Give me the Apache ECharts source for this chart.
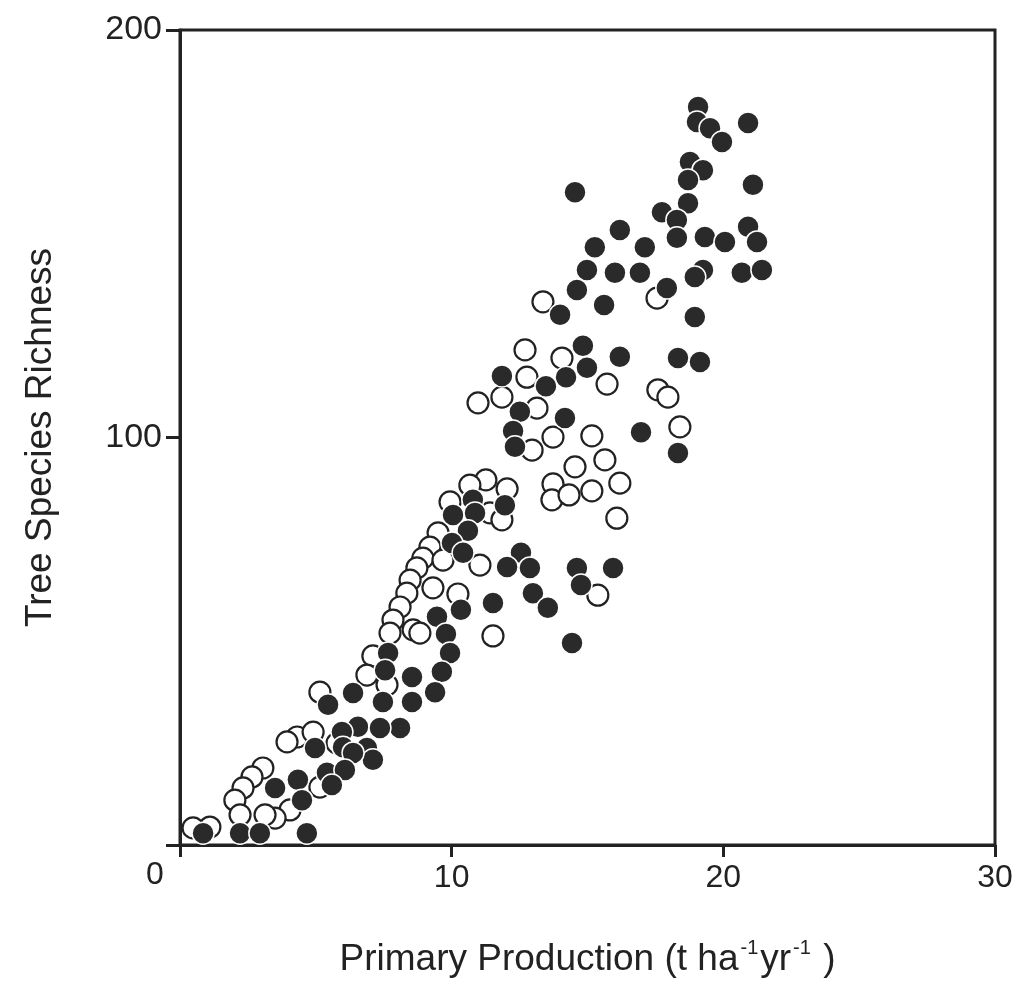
<!DOCTYPE html>
<html>
<head>
<meta charset="utf-8">
<title>Tree species richness vs primary production</title>
<script src="https://cdn.jsdelivr.net/npm/echarts@6/dist/echarts.min.js"></script>
<style>
    html, body { margin: 0; padding: 0; background: #fff; }
    #chart { width: 1017px; height: 998px; }
</style>
</head>
<body>
<div id="chart"></div>
<script>
// Open circles (x = production, y = richness)
const openPoints = [
    [13.36, 133.3], [17.56, 134.2], [12.70, 121.5], [14.06, 119.5], [12.77, 114.8],
    [15.72, 113.1], [10.97, 108.5], [11.85, 109.9], [13.14, 107.2], [13.73, 100.1],
    [15.16, 100.4], [12.96, 96.9], [14.54, 92.8], [15.64, 94.5], [17.59, 111.7],
    [17.96, 109.9], [18.40, 102.6], [13.73, 88.6], [13.69, 84.7], [14.32, 85.9],
    [15.16, 86.9], [16.19, 88.8], [16.08, 80.2], [11.26, 89.6], [12.04, 87.4],
    [10.67, 88.3], [9.94, 84.2], [11.41, 81.5], [11.85, 79.8], [9.50, 76.6],
    [9.20, 73.1], [8.94, 70.4], [9.68, 69.9], [11.04, 68.7], [8.72, 68.0],
    [8.47, 65.0], [9.31, 63.1], [8.35, 61.8], [8.10, 58.4], [7.84, 55.2],
    [7.73, 52.0], [10.23, 61.6], [15.38, 61.3], [11.52, 51.3], [8.58, 52.8],
    [8.83, 52.0], [7.10, 46.4], [6.88, 41.7], [5.15, 37.5], [7.62, 39.3],
    [4.31, 26.5], [3.94, 25.3], [4.90, 27.7], [5.78, 25.0], [3.05, 18.9],
    [2.65, 16.7], [2.32, 14.0], [2.02, 11.0], [4.05, 8.6], [5.15, 14.2],
    [3.50, 6.6], [3.13, 7.4], [2.21, 7.4], [1.10, 4.4], [0.48, 4.2]
];

// Filled circles
const filledPoints = [
    [19.07, 181.1], [19.03, 177.4], [19.51, 175.9], [19.95, 172.5], [20.91, 177.2],
    [14.54, 160.2], [18.77, 167.6], [19.25, 165.6], [18.70, 163.2], [21.09, 162.0],
    [18.70, 157.5], [17.74, 155.3], [18.29, 153.4], [16.19, 150.9], [15.27, 146.7],
    [17.11, 146.7], [18.29, 149.0], [19.32, 149.2], [20.06, 148.0], [20.91, 151.7],
    [21.24, 148.0], [14.98, 141.1], [16.01, 140.4], [16.93, 140.4], [19.25, 141.1],
    [18.95, 139.4], [20.68, 140.4], [21.42, 141.1], [14.61, 136.2], [17.92, 136.7],
    [13.99, 130.1], [15.61, 132.5], [18.95, 129.6], [14.83, 122.5], [16.19, 119.8],
    [18.33, 119.5], [19.14, 118.5], [11.85, 115.1], [14.98, 117.1], [14.21, 114.8],
    [13.47, 112.6], [12.51, 106.3], [14.17, 104.8], [12.26, 101.6], [12.33, 97.7],
    [16.97, 101.3], [18.33, 96.2], [11.96, 83.4], [10.78, 84.7], [10.05, 81.0],
    [10.86, 81.5], [10.60, 77.1], [10.01, 74.1], [10.42, 71.7], [12.55, 71.7],
    [12.04, 68.2], [12.88, 68.0], [14.61, 68.0], [15.94, 68.0], [14.76, 63.8],
    [12.99, 61.8], [13.54, 58.2], [11.52, 59.4], [10.34, 57.7], [9.46, 56.0],
    [9.79, 51.8], [14.43, 49.6], [9.94, 47.1], [7.66, 47.1], [9.64, 42.5],
    [8.54, 41.2], [7.55, 42.9], [9.39, 37.5], [5.45, 34.4], [6.37, 37.3],
    [7.47, 35.1], [8.54, 35.1], [8.10, 28.7], [6.55, 29.0], [5.96, 27.7],
    [7.36, 28.7], [4.97, 23.8], [6.00, 24.0], [6.88, 23.8], [7.10, 20.9],
    [6.37, 22.6], [5.41, 17.7], [6.07, 18.4], [5.59, 14.7], [3.50, 14.0],
    [4.34, 16.0], [4.49, 11.0], [0.85, 2.9], [2.21, 2.9], [2.94, 2.9], [4.67, 2.9]
];

const xTicks = [0, 10, 20, 30];
const yTicks = [0, 100, 200];

const ink = '#222';
const font = 'Liberation Sans, Arial, Helvetica, sans-serif';

const chart = echarts.init(document.getElementById('chart'), null, { renderer: 'canvas' });

chart.setOption({
    animation: false,
    backgroundColor: '#fff',
    grid: {
        left: 180, right: 22, top: 30, bottom: 153,
        show: true, borderColor: ink, borderWidth: 3, backgroundColor: 'transparent'
    },
    xAxis: {
        type: 'value',
        min: xTicks[0], max: xTicks[xTicks.length - 1], interval: 10,
        splitLine: { show: false },
        axisLine: { show: true, lineStyle: { color: ink, width: 3 } },
        axisTick: { show: true, inside: false, length: 12, lineStyle: { color: ink, width: 3 } },
        axisLabel: {
            color: ink, fontSize: 32, fontFamily: font, margin: 17,
            formatter: v => (v === 0 ? '' : String(v))
        },
        name: '{n|Primary Production (t ha}{s|-1}{n|yr}{s|-1}{n| )}',
        nameLocation: 'middle',
        nameGap: 93,
        nameTextStyle: {
            rich: {
                n: { fontSize: 37, fontFamily: font, color: ink, lineHeight: 44 },
                s: { fontSize: 20, fontFamily: font, color: ink, verticalAlign: 'top', lineHeight: 44, padding: [0, 2, 0, 2] }
            }
        }
    },
    yAxis: {
        type: 'value',
        min: yTicks[0], max: yTicks[yTicks.length - 1], interval: 100,
        splitLine: { show: false },
        axisLine: { show: true, lineStyle: { color: ink, width: 3 } },
        axisTick: { show: true, inside: false, length: 14, lineStyle: { color: ink, width: 3 } },
        axisLabel: {
            color: ink, fontSize: 34, fontFamily: font, margin: 18,
            formatter: v => (v === 0 ? '' : String(v))
        },
        name: 'Tree Species Richness',
        nameLocation: 'middle',
        nameGap: 121,
        nameTextStyle: { color: ink, fontSize: 37, fontFamily: font }
    },
    graphic: [{
        type: 'text',
        left: 146, top: 859,
        style: { text: '0', fill: ink, font: '32px ' + font }
    }],
    series: [
        {
            name: 'open',
            type: 'scatter',
            data: openPoints,
            symbol: 'circle',
            symbolSize: 21,
            itemStyle: { color: '#fff', borderColor: ink, borderWidth: 2.2, opacity: 1 },
            z: 2
        },
        {
            name: 'filled',
            type: 'scatter',
            data: filledPoints,
            symbol: 'circle',
            symbolSize: 22,
            itemStyle: { color: '#2a2a2a', borderColor: '#fff', borderWidth: 1.5, opacity: 1 },
            z: 3
        }
    ]
});

window.addEventListener('resize', () => chart.resize());
</script>
</body>
</html>
